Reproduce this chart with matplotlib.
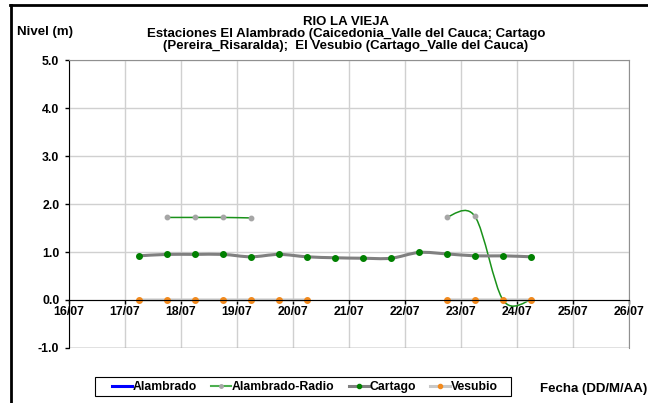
import numpy as np
import matplotlib
matplotlib.use('Agg')
import matplotlib.pyplot as plt
from matplotlib.path import Path
from matplotlib.patches import PathPatch, Rectangle
from matplotlib.lines import Line2D

plt.rcParams['font.family'] = ['Liberation Sans', 'DejaVu Sans']
plt.rcParams['font.weight'] = 'bold'

# dias de julio (fraccion = hora del dia)
fechas = [17.25, 17.75, 18.25, 18.75, 19.25, 19.75, 20.25, 20.75,
          21.25, 21.75, 22.25, 22.75, 23.25, 23.75, 24.25]
alambrado = [np.nan] * 15
alambrado_radio = [np.nan, 1.72, 1.72, 1.72, 1.71, np.nan, np.nan, np.nan,
                   np.nan, np.nan, np.nan, 1.73, 1.74, 0.0, 0.0]
cartago = [0.92, 0.95, 0.95, 0.95, 0.90, 0.95, 0.90, 0.88,
           0.87, 0.87, 0.99, 0.96, 0.92, 0.92, 0.90]
vesubio = [0.0, 0.0, 0.0, 0.0, 0.0, 0.0, 0.0, np.nan,
           np.nan, np.nan, np.nan, 0.0, 0.0, 0.0, 0.0]

dias = list(range(16, 27))
etiquetas = ['%02d/07' % d for d in dias]
niveles = [-1.0, 0.0, 1.0, 2.0, 3.0, 4.0, 5.0]

titulo = ['RIO LA VIEJA',
          'Estaciones El Alambrado (Caicedonia_Valle del Cauca; Cartago',
          '(Pereira_Risaralda);  El Vesubio (Cartago_Valle del Cauca)']

FS = 8.8
FS_T = 9.5


# linea suavizada tipo excel (bezier)
def linea_suave(ax, xs, ys, **kw):
    xs = np.asarray(xs, float)
    ys = np.asarray(ys, float)
    ok = ~np.isnan(ys)
    tramos = []
    tramo = []
    for i in range(len(xs)):
        if ok[i]:
            tramo.append((xs[i], ys[i]))
        elif tramo:
            tramos.append(tramo)
            tramo = []
    if tramo:
        tramos.append(tramo)
    for t in tramos:
        if len(t) < 2:
            continue
        p = np.array(t)
        n = len(p)
        verts = [p[0]]
        codes = [Path.MOVETO]
        for i in range(n - 1):
            p0 = p[i - 1] if i > 0 else p[i]
            p1 = p[i]
            p2 = p[i + 1]
            p3 = p[i + 2] if i + 2 < n else p[i + 1]
            c1 = p1 + (p2 - p0) / 6.0
            c2 = p2 - (p3 - p1) / 6.0
            verts += [c1, c2, p2]
            codes += [Path.CURVE4] * 3
        ax.add_patch(PathPatch(Path(verts, codes), fill=False, **kw))


fig = plt.figure(figsize=(6.48, 4.03), dpi=100)
ax = fig.add_axes([69 / 648, 1 - 348 / 403, 560 / 648, 288 / 403])

ax.set_xlim(16, 26)
ax.set_ylim(-1, 5)

for d in dias:
    ax.axvline(d, color='#d0d0d0', lw=1, zorder=0)
for v in niveles:
    ax.axhline(v, color='#d0d0d0', lw=1, zorder=0)
ax.axhline(-1, color='#909090', lw=1, zorder=0.5)

# series
linea_suave(ax, fechas, alambrado_radio, edgecolor='#1a921a', lw=1.1, zorder=2)
ax.plot(fechas, alambrado_radio, ls='none', marker='o', ms=3.2,
        color='#a6a6a6', zorder=3)
linea_suave(ax, fechas, cartago, edgecolor='#808080', lw=2.2, zorder=4)
ax.plot(fechas, cartago, ls='none', marker='o', ms=4, color='#008000', zorder=5)
linea_suave(ax, fechas, vesubio, edgecolor='#c8c8c8', lw=2.2, zorder=6)
ax.plot(fechas, vesubio, ls='none', marker='o', ms=4, color='#f28a1e', zorder=7)

ax.spines['bottom'].set_position(('data', 0))
ax.spines['bottom'].set_color('black')
ax.spines['left'].set_color('black')
ax.spines['top'].set_color('#909090')
ax.spines['right'].set_color('#909090')
ax.spines['bottom'].set_zorder(8)

ax.set_xticks(dias)
ax.set_xticklabels(etiquetas)
ax.set_yticks(niveles)
ax.set_yticklabels(['%.1f' % v for v in niveles])
ax.tick_params(axis='both', labelsize=FS, length=3, width=1, color='black')
ax.tick_params(axis='x', pad=1)
ax.tick_params(axis='y', pad=4)
for lb in ax.get_xticklabels() + ax.get_yticklabels():
    lb.set_fontweight('bold')

# textos
for i, linea in enumerate(titulo):
    fig.text(346 / 648, 1 - (22 + 12 * i) / 403, linea, ha='center',
             va='center', fontsize=FS_T, fontweight='bold')
fig.text(17 / 648, 1 - 32 / 403, 'Nivel (m)', ha='left', va='center',
         fontsize=FS_T, fontweight='bold')
fig.text(540 / 648, 1 - 389 / 403, 'Fecha (DD/M/AA)', ha='left', va='center',
         fontsize=FS_T, fontweight='bold')

# marco
fig.add_artist(Line2D([11 / 648, 11 / 648], [0, 1 - 5 / 403], color='black',
                      lw=2, transform=fig.transFigure))
fig.add_artist(Line2D([10 / 648, 1], [1 - 5 / 403, 1 - 5 / 403], color='black',
                      lw=2, transform=fig.transFigure))

# leyenda
h = [Line2D([], [], color='#0000ff', lw=2.2),
     Line2D([], [], color='#4caf50', lw=1.5, marker='o', ms=2.5,
            markerfacecolor='#a6a6a6', markeredgecolor='#a6a6a6'),
     Line2D([], [], color='#808080', lw=2.2, marker='o', ms=3,
            markerfacecolor='#008000', markeredgecolor='#008000'),
     Line2D([], [], color='#c8c8c8', lw=2.2, marker='o', ms=3,
            markerfacecolor='#f28a1e', markeredgecolor='#f28a1e')]
leg = fig.legend(h, ['Alambrado', 'Alambrado-Radio', 'Cartago', 'Vesubio'],
                 loc='center', bbox_to_anchor=(305 / 648, 1 - 387 / 403),
                 ncol=4, fontsize=FS, frameon=False, handlelength=1.65,
                 handletextpad=0.05, columnspacing=1.15, borderpad=0,
                 borderaxespad=0)
for t in leg.get_texts():
    t.set_fontweight('bold')
fig.add_artist(Rectangle((94.5 / 648, 1 - 396 / 403), 416 / 648, 19 / 403,
                         transform=fig.transFigure, fill=False,
                         edgecolor='black', lw=0.8))

fig.savefig('out.png', dpi=100)
